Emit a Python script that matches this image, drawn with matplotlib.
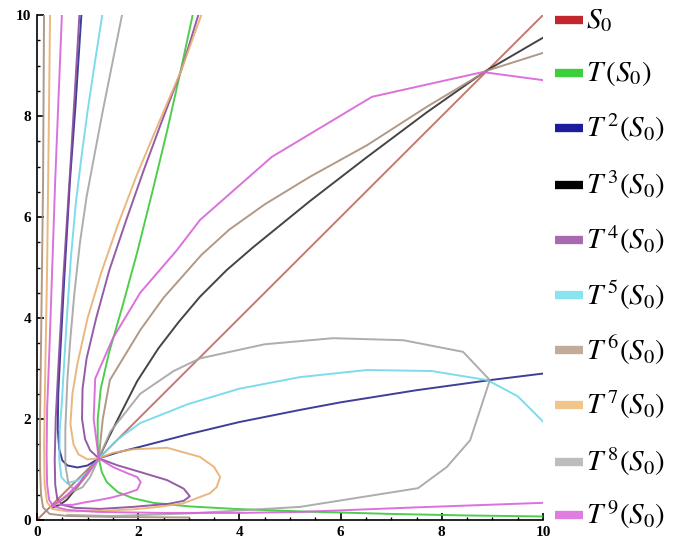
import matplotlib
matplotlib.use("Agg")
import matplotlib.pyplot as plt
from matplotlib.lines import Line2D
from matplotlib.ticker import MultipleLocator

# curve points (x, y), one list per branch
s0_line = [(0, 0), (10, 10)]

t1_upper = [(3.12, 10.2), (2.84, 8.9), (2.57, 7.7), (2.28, 6.5), (1.98, 5.3), (1.68, 4.2),
            (1.42, 3.3), (1.26, 2.6), (1.2, 2.0), (1.2, 1.5), (1.22, 1.22)]
t1_lower = [(1.22, 1.22), (1.28, 0.95), (1.38, 0.75), (1.6, 0.55), (1.9, 0.43), (2.3, 0.34),
            (3.0, 0.27), (3.9, 0.22), (5.2, 0.17), (7.0, 0.12), (8.5, 0.09), (10.0, 0.07)]

t2_main = [(0.89, 10.2), (0.76, 8.2), (0.65, 6.7), (0.54, 4.8), (0.46, 3.3), (0.42, 2.5),
           (0.41, 1.8), (0.44, 1.4), (0.5, 1.18), (0.6, 1.08), (0.8, 1.04), (1.0, 1.08),
           (1.22, 1.22), (1.6, 1.34), (2.04, 1.45), (3.0, 1.7), (4.0, 1.94), (5.2, 2.18),
           (6.0, 2.33), (7.5, 2.57), (8.95, 2.77), (10.0, 2.9)]

t3_upper = [(1.22, 1.22), (1.4, 1.6), (1.65, 2.1), (1.98, 2.75), (2.4, 3.4), (2.8, 3.92),
            (3.22, 4.42), (3.75, 4.95), (4.27, 5.4), (5.4, 6.32), (6.5, 7.17), (7.7, 8.07),
            (8.85, 8.88), (10.0, 9.55)]
t3_lower = [(1.22, 1.22), (1.0, 0.95), (0.8, 0.66), (0.59, 0.4), (0.45, 0.3), (0.32, 0.25)]

t4_upper = [(3.25, 10.2), (2.85, 8.9), (2.45, 7.85), (2.1, 6.9), (1.75, 5.9), (1.43, 4.95),
            (1.17, 4.0), (0.98, 3.2), (0.9, 2.6), (0.89, 2.0), (0.95, 1.6), (1.05, 1.38),
            (1.22, 1.22)]
t4_loop = [(1.22, 1.22), (1.6, 1.08), (2.04, 0.95), (2.57, 0.79), (2.9, 0.62), (3.02, 0.47),
           (2.9, 0.38), (2.6, 0.32), (1.9, 0.26), (1.25, 0.22), (0.75, 0.24), (0.5, 0.3),
           (0.4, 0.42), (0.36, 0.7), (0.35, 1.2), (0.37, 2.0), (0.42, 3.0), (0.52, 4.8),
           (0.66, 7.0), (0.85, 10.2)]

t5_main = [(1.32, 10.2), (1.15, 9.1), (1.0, 8.1), (0.88, 7.2), (0.77, 6.3), (0.67, 5.2),
           (0.59, 4.0), (0.53, 3.0), (0.49, 2.3), (0.45, 1.8), (0.44, 1.2), (0.48, 0.85),
           (0.59, 0.73), (0.8, 0.78), (1.0, 0.95), (1.22, 1.22), (1.6, 1.6), (2.04, 1.92),
           (3.0, 2.3), (4.0, 2.6), (5.2, 2.83), (6.52, 2.97), (7.8, 2.95), (8.9, 2.77),
           (9.5, 2.45), (10.0, 1.95)]

t6_upper = [(1.22, 1.22), (1.3, 2.0), (1.44, 2.77), (2.04, 3.76), (2.5, 4.4), (3.25, 5.25),
            (3.8, 5.75), (4.5, 6.25), (5.4, 6.8), (6.52, 7.42), (7.7, 8.18), (8.9, 8.9),
            (10.0, 9.25)]
t6_lower = [(1.22, 1.22), (1.0, 0.9), (0.75, 0.6), (0.5, 0.4), (0.35, 0.3)]
t6_axis = [(0.14, 10.2), (0.12, 6.7), (0.08, 3.5), (0.06, 2.0), (0.06, 1.0), (0.08, 0.5),
           (0.12, 0.25), (0.25, 0.12), (0.6, 0.08), (1.5, 0.06), (3.0, 0.05)]

t7_upper = [(3.32, 10.2), (2.85, 8.9), (2.4, 7.85), (1.98, 6.85), (1.6, 5.85), (1.27, 4.9),
            (1.0, 4.0), (0.8, 3.1), (0.7, 2.5), (0.66, 1.9), (0.72, 1.5), (0.82, 1.3),
            (1.0, 1.2), (1.22, 1.22)]
t7_loop = [(1.22, 1.22), (1.5, 1.33), (1.9, 1.4), (2.57, 1.43), (3.22, 1.25), (3.5, 1.05),
           (3.62, 0.85), (3.55, 0.65), (3.42, 0.53), (2.89, 0.33), (2.4, 0.26), (1.9, 0.21),
           (1.2, 0.18), (0.6, 0.17), (0.3, 0.22), (0.2, 0.35), (0.15, 0.7), (0.14, 1.5),
           (0.16, 2.77), (0.2, 5.0), (0.23, 7.5), (0.26, 10.2)]

t8_left = [(1.72, 10.2), (1.5, 9.1), (1.3, 8.1), (1.13, 7.2), (0.98, 6.4), (0.85, 5.5),
           (0.74, 4.5), (0.66, 3.6), (0.6, 2.77), (0.56, 1.8), (0.56, 1.1), (0.62, 0.72),
           (0.75, 0.58), (0.9, 0.65), (1.05, 0.85), (1.22, 1.22)]
t8_right = [(1.22, 1.22), (1.45, 1.75), (2.04, 2.5), (2.7, 2.95), (3.22, 3.2), (4.5, 3.48),
            (5.85, 3.6), (7.24, 3.56), (8.42, 3.33), (8.95, 2.77), (8.56, 1.58), (8.1, 1.05),
            (7.53, 0.63), (5.2, 0.26), (3.0, 0.13), (1.5, 0.08), (0.6, 0.1)]

t9_upper = [(1.22, 1.22), (1.12, 2.0), (1.15, 2.8), (1.5, 3.6), (2.04, 4.5), (2.77, 5.35),
            (3.22, 5.94), (4.64, 7.19), (6.62, 8.38), (8.81, 8.87), (10.0, 8.71)]
t9_loop = [(1.22, 1.22), (1.5, 1.05), (1.8, 0.92), (1.98, 0.85), (2.05, 0.75), (1.98, 0.6),
           (1.78, 0.53), (1.5, 0.45), (1.25, 0.4), (0.95, 0.35), (0.7, 0.3), (0.45, 0.3)]
t9_lower = [(1.22, 1.22), (1.05, 1.0), (0.85, 0.75), (0.6, 0.5), (0.4, 0.35), (0.3, 0.28)]
t9_axis = [(0.5, 10.2), (0.36, 6.73), (0.25, 3.5), (0.2, 2.2), (0.19, 1.3), (0.2, 0.7),
           (0.24, 0.4), (0.32, 0.27), (0.6, 0.2), (1.2, 0.16), (2.5, 0.14), (4.0, 0.14),
           (5.2, 0.16), (7.5, 0.25), (10.0, 0.34)]

labels = [r'$S_0$', r'$T\,(S_0)$', r'$T^{\,2}(S_0)$', r'$T^{\,3}(S_0)$', r'$T^{\,4}(S_0)$',
          r'$T^{\,5}(S_0)$', r'$T^{\,6}(S_0)$', r'$T^{\,7}(S_0)$', r'$T^{\,8}(S_0)$',
          r'$T^{\,9}(S_0)$']
legend_colors = ['#c1272d', '#3ccf3c', '#1c1c9c', '#000000', '#a86bb0',
                 '#8ae4f0', '#c2ab98', '#f2c68a', '#bdbdbd', '#e07de0']
line_colors = ['#c06a5e', '#3cc83c', '#2a2a8c', '#303030', '#8a4a9e',
               '#6fd8ea', '#a88e7a', '#e8b070', '#a4a4a4', '#d862d8']

branches = [
    [s0_line],
    [t1_upper, t1_lower],
    [t2_main],
    [t3_upper, t3_lower],
    [t4_upper, t4_loop],
    [t5_main],
    [t6_upper, t6_lower, t6_axis],
    [t7_upper, t7_loop],
    [t8_left, t8_right],
    [t9_upper, t9_loop, t9_lower, t9_axis],
]

plt.rcParams['mathtext.fontset'] = 'stix'

fig = plt.figure(figsize=(6.81, 5.51), dpi=100)
ax = fig.add_axes([37 / 681, 31 / 551, 506 / 681, 505 / 551])

for k, group in enumerate(branches):
    for pts in group:
        xs = [p[0] for p in pts]
        ys = [p[1] for p in pts]
        ax.plot(xs, ys, color=line_colors[k], lw=1.4, alpha=0.9, solid_joinstyle='round')

ax.set_xlim(0, 10)
ax.set_ylim(0, 10)
ax.spines['top'].set_visible(False)
ax.spines['right'].set_visible(False)
ax.spines['left'].set_linewidth(1.2)
ax.spines['bottom'].set_linewidth(1.2)
ax.xaxis.set_major_locator(MultipleLocator(2))
ax.yaxis.set_major_locator(MultipleLocator(2))
ax.xaxis.set_minor_locator(MultipleLocator(0.5))
ax.yaxis.set_minor_locator(MultipleLocator(0.5))
ax.tick_params(which='major', direction='in', length=5, width=1.2, labelsize=11, pad=4)
ax.tick_params(which='minor', direction='in', length=2.5, width=1)
for t in ax.get_xticklabels() + ax.get_yticklabels():
    t.set_fontfamily('Liberation Serif')
    t.set_fontweight('bold')

# legend down the right side
leg_y = [20, 73, 128, 185, 240, 295, 350, 405, 462, 515]
for i, lab in enumerate(labels):
    yf = 1 - leg_y[i] / 551
    fig.add_artist(Line2D([555 / 681, 583 / 681], [yf, yf], lw=6, color=legend_colors[i],
                          solid_capstyle='butt'))
    fig.text(586 / 681, yf, lab, fontsize=21, va='center', ha='left')

fig.savefig('out.png', dpi=100)
